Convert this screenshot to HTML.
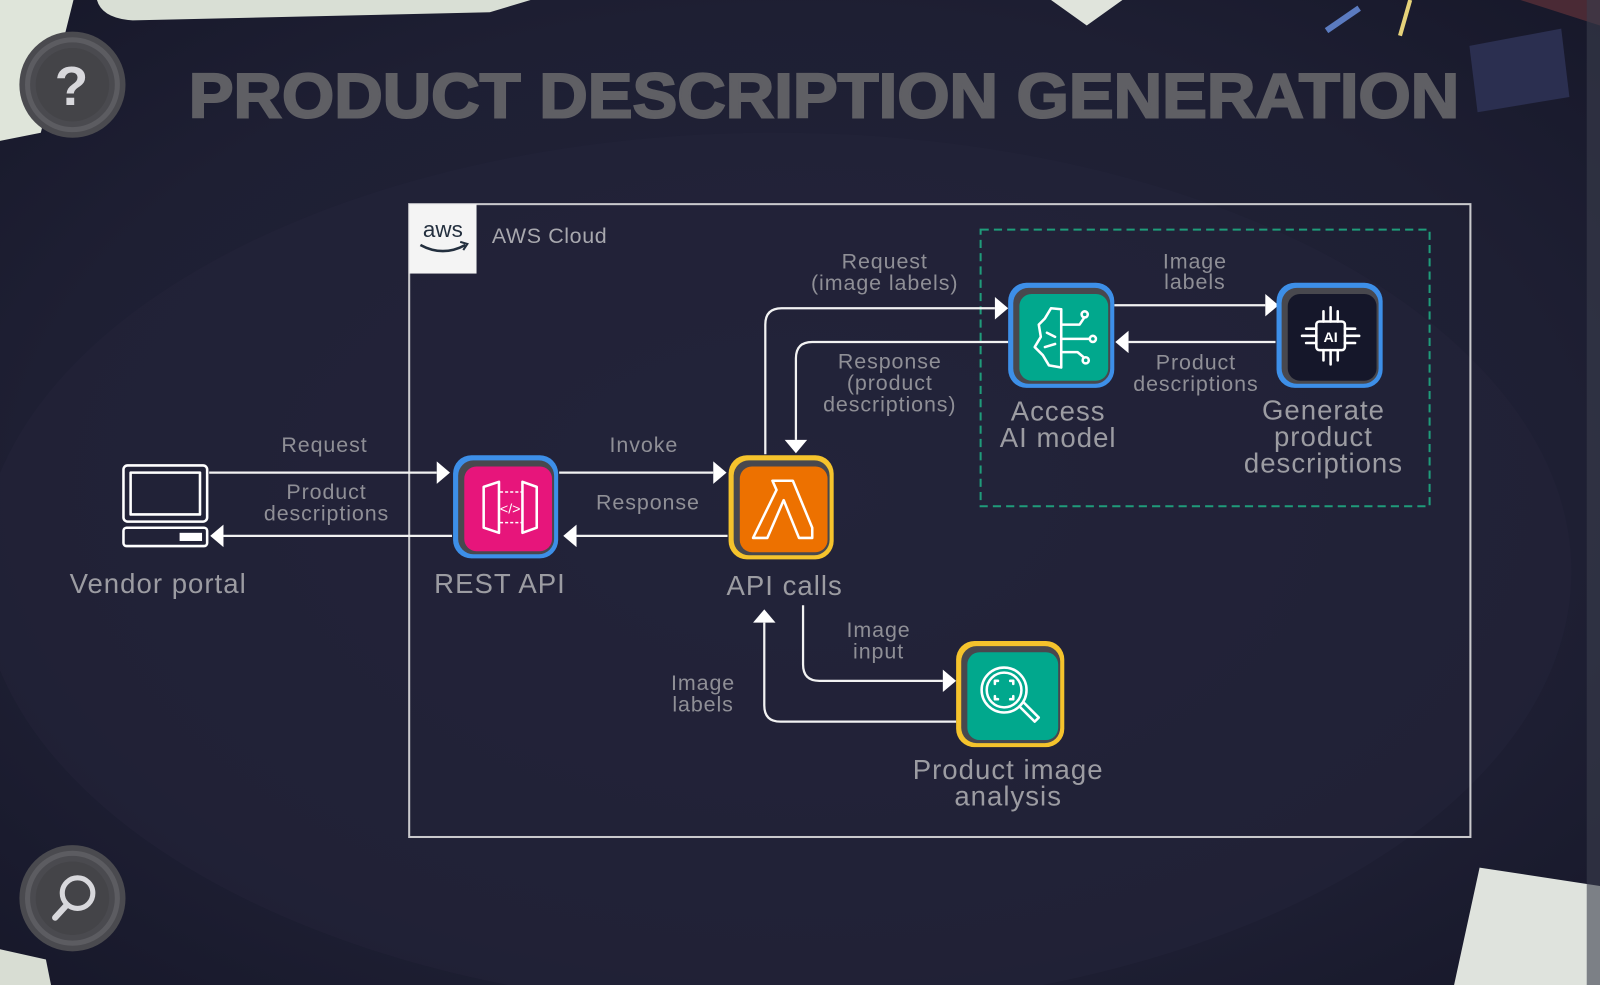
<!DOCTYPE html>
<html><head><meta charset="utf-8"><style>
html,body{margin:0;padding:0;background:#1e1f33;width:1600px;height:985px;overflow:hidden}
svg{display:block}
text{font-family:"Liberation Sans",sans-serif}
.lb{fill:#8f8f96;font-size:21px;text-anchor:middle;letter-spacing:0.9px}
.nl{fill:#9c9ca2;font-size:27px;text-anchor:middle;letter-spacing:1px}
.ln{stroke:#f2f2f2;stroke-width:2.2;fill:none}
.ah{fill:#ffffff}
.ic{stroke:#fff;stroke-width:2.5;fill:none;stroke-linecap:round;stroke-linejoin:round}
</style></head><body>
<svg width="1600" height="985" viewBox="0 0 1568 965" preserveAspectRatio="none" xmlns="http://www.w3.org/2000/svg">
<defs>
<radialGradient id="bg" cx="50%" cy="50%" r="70%">
<stop offset="0" stop-color="#22233a"/><stop offset="0.7" stop-color="#1e1f33"/><stop offset="1" stop-color="#17182a"/>
</radialGradient>
</defs>
<rect width="1568" height="965" fill="url(#bg)"/>
<ellipse cx="760" cy="560" rx="780" ry="430" fill="#23243a" opacity="0.5"/>
<path d="M0 0 H72 L62 40 L40 130 L0 138 Z" fill="#dfe5da"/>
<path d="M95 0 H520 L480 12 L130 20 Q100 18 95 0Z" fill="#d9dfd5"/>
<path d="M1030 0 H1100 L1065 25 Z" fill="#e0e4dc"/>
<path d="M1300 30 L1332 8" stroke="#5b7bc0" stroke-width="6"/>
<path d="M1372 35 L1382 0" stroke="#e6d27a" stroke-width="4"/>
<path d="M1440 45 L1530 28 L1538 95 L1448 110 Z" fill="#2b2f50"/>
<path d="M1490 0 H1568 V25 Z" fill="#4a2a35"/>
<path d="M1450 850 L1568 868 V965 H1425 Z" fill="#dfe3dd"/>
<path d="M0 930 L45 940 L50 965 H0 Z" fill="#d8ddd3"/>
<rect x="1555" y="0" width="13" height="965" fill="#3a3d4d" opacity="0.6"/>
<g>
<circle cx="71" cy="83" r="52" fill="#4a4a4f"/><circle cx="71" cy="83" r="44" fill="none" stroke="#5c5c61" stroke-width="5"/>
<circle cx="71" cy="83" r="36" fill="#444448"/>
<text x="70" y="103" font-size="54" font-weight="bold" fill="#d8d8dc" text-anchor="middle">?</text>
<circle cx="71" cy="880" r="52" fill="#4a4a4f"/><circle cx="71" cy="880" r="44" fill="none" stroke="#5c5c61" stroke-width="5"/>
<circle cx="71" cy="880" r="36" fill="#444448"/>
<circle cx="76" cy="875" r="15" fill="none" stroke="#d8d8dc" stroke-width="5"/>
<path d="M65 887 L54 899" stroke="#d8d8dc" stroke-width="6" stroke-linecap="round"/>
</g>
<text x="185" y="115" font-size="62" font-weight="bold" fill="#5f5f64" textLength="1245" lengthAdjust="spacingAndGlyphs" stroke="#5f5f64" stroke-width="2">PRODUCT DESCRIPTION GENERATION</text>
<rect x="401" y="200" width="1040" height="620" fill="none" stroke="#c9c9cc" stroke-width="2"/>
<rect x="401" y="200" width="66" height="68" fill="#f4f4f4"/>
<text x="434" y="232" font-size="22" fill="#232f3e" text-anchor="middle">aws</text>
<path d="M412 240 Q434 252 456 240" stroke="#232f3e" stroke-width="2.5" fill="none"/>
<path d="M451 237 L458 239 L454 245" stroke="#232f3e" stroke-width="2" fill="none"/>
<text x="482" y="238" font-size="21" fill="#a8a8ae" letter-spacing="0.6">AWS Cloud</text>
<rect x="961" y="225" width="440" height="271" fill="none" stroke="#1f9c7a" stroke-width="2" stroke-dasharray="8 5"/>

<path class="ln" d="M205 463 H428"/><polygon class="ah" points="428,452 441,463 428,474"/>
<path class="ln" d="M443 525 H219"/><polygon class="ah" points="219,514 206,525 219,536"/>
<path class="ln" d="M548 463 H699"/><polygon class="ah" points="699,452 712,463 699,474"/>
<path class="ln" d="M713 525 H565"/><polygon class="ah" points="565,514 552,525 565,536"/>
<path class="ln" d="M750 445 V318 Q750 302 766 302 H975"/><polygon class="ah" points="975,291 988,302 975,313"/>
<path class="ln" d="M988 335 H796 Q780 335 780 351 V431"/><polygon class="ah" points="769,431 780,444 791,431"/>
<path class="ln" d="M1092 299 H1240"/><polygon class="ah" points="1240,288 1253,299 1240,310"/>
<path class="ln" d="M1250 335 H1106"/><polygon class="ah" points="1106,324 1093,335 1106,346"/>
<path class="ln" d="M787 593 V651 Q787 667 803 667 H924"/><polygon class="ah" points="924,656 937,667 924,678"/>
<path class="ln" d="M937 707 H765 Q749 707 749 691 V610"/><polygon class="ah" points="738,610 749,597 760,610"/>

<text class="lb" x="318" y="443">Request</text>
<text class="lb" x="320" y="489">Product</text><text class="lb" x="320" y="510">descriptions</text>
<text class="lb" x="631" y="443">Invoke</text>
<text class="lb" x="635" y="499">Response</text>
<text class="lb" x="867" y="263">Request</text><text class="lb" x="867" y="284">(image labels)</text>
<text class="lb" x="872" y="361">Response</text><text class="lb" x="872" y="382">(product</text><text class="lb" x="872" y="403">descriptions)</text>
<text class="lb" x="1171" y="263">Image</text><text class="lb" x="1171" y="283">labels</text>
<text class="lb" x="1172" y="362">Product</text><text class="lb" x="1172" y="383">descriptions</text>
<text class="lb" x="861" y="624">Image</text><text class="lb" x="861" y="645">input</text>
<text class="lb" x="689" y="676">Image</text><text class="lb" x="689" y="697">labels</text>

<rect x="121" y="456" width="82" height="55" rx="4" class="ic"/>
<rect x="128" y="463" width="68" height="41" class="ic"/>
<rect x="121" y="517" width="82" height="18" rx="3" class="ic"/>
<rect x="176" y="522" width="22" height="8" fill="#fff"/>
<text class="nl" x="155" y="581">Vendor portal</text>

<rect x="444" y="446" width="103" height="101" rx="18" fill="#3d8fe8"/>
<rect x="449" y="451" width="94" height="92" rx="15" fill="#48484e"/>
<rect x="455" y="457" width="86" height="83" rx="12" fill="#e7157b"/>
<path class="ic" d="M474 477 L489 472 V522 L474 517 Z M512 472 L526 477 V517 L512 522 Z" stroke-width="2"/>
<path d="M490 482 H511 M490 512 H511" stroke="#fff" stroke-width="1.5" stroke-dasharray="3 2"/>
<text x="500" y="503" font-size="14" fill="#fff" text-anchor="middle">&lt;/&gt;</text>
<text class="nl" x="490" y="581">REST API</text>

<rect x="714" y="446" width="103" height="102" rx="18" fill="#f5c32c"/>
<rect x="719" y="451" width="94" height="93" rx="15" fill="#48484e"/>
<rect x="725" y="457" width="86" height="84" rx="12" fill="#ed7100"/>
<path class="ic" d="M764 471 H777 L796 517 V527 H783 L768 490 L752 527 H738 L761 480 L757 471 Z" stroke-width="2.2"/>
<text class="nl" x="769" y="583">API calls</text>

<rect x="988" y="277" width="104" height="103" rx="18" fill="#3d8fe8"/>
<rect x="993" y="282" width="95" height="94" rx="15" fill="#48484e"/>
<rect x="999" y="288" width="87" height="85" rx="12" fill="#01a88d"/>
<path class="ic" d="M1040 303 L1030 302 L1024 312 L1018 318 L1020 330 L1014 340 L1022 348 L1028 358 L1040 360 M1040 303 V360 M1040 318 H1058 L1062 312 M1040 332 H1068 M1040 345 H1056 L1062 350 M1026 326 L1034 330 M1024 340 L1034 337" stroke-width="2"/>
<circle cx="1063" cy="308" r="3" class="ic" stroke-width="2"/><circle cx="1071" cy="332" r="3" class="ic" stroke-width="2"/><circle cx="1064" cy="353" r="3" class="ic" stroke-width="2"/>
<text class="nl" x="1037" y="412">Access</text><text class="nl" x="1037" y="438">AI model</text>

<rect x="1251" y="277" width="104" height="103" rx="18" fill="#3d8fe8"/>
<rect x="1256" y="282" width="95" height="94" rx="15" fill="#48484e"/>
<rect x="1262" y="288" width="87" height="85" rx="12" fill="#15172a"/>
<rect x="1290" y="315" width="28" height="28" rx="3" class="ic" stroke-width="2"/>
<text x="1304" y="335" font-size="14" font-weight="bold" fill="#fff" text-anchor="middle">AI</text>
<path class="ic" stroke-width="1.6" d="M1297 315 V305 M1304 315 V301 M1311 315 V305 M1297 343 V353 M1304 343 V357 M1311 343 V353 M1290 322 H1280 M1290 329 H1276 M1290 336 H1280 M1318 322 H1328 M1318 329 H1332 M1318 336 H1328"/>
<text class="nl" x="1297" y="411">Generate</text><text class="nl" x="1297" y="437">product</text><text class="nl" x="1297" y="463">descriptions</text>

<rect x="937" y="628" width="106" height="104" rx="18" fill="#f5c32c"/>
<rect x="942" y="633" width="97" height="95" rx="15" fill="#48484e"/>
<rect x="948" y="639" width="89" height="86" rx="12" fill="#01a88d"/>
<circle cx="984" cy="676" r="22" class="ic" stroke-width="2"/><circle cx="984" cy="676" r="17" class="ic" stroke-width="1.6"/>
<path class="ic" d="M999 692 L1014 707 L1018 703 L1003 688" stroke-width="2"/>
<path class="ic" stroke-width="1.8" d="M975 670 V667 H978 M990 667 H993 V670 M993 682 V685 H990 M978 685 H975 V682"/>
<text class="nl" x="988" y="763">Product image</text><text class="nl" x="988" y="789">analysis</text>
</svg>
</body></html>
